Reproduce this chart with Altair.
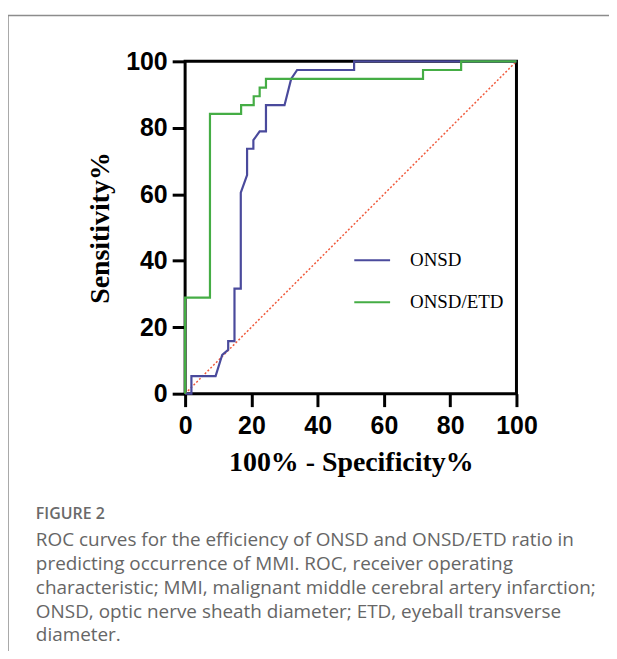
import altair as alt
import pandas as pd

onsd_x = [0, 1.9, 1.9, 9.2, 11.2, 13.0, 13.0, 14.9, 14.9, 16.8, 16.8, 18.7, 18.7, 20.6, 20.6, 22.5, 24.4, 24.4, 30.0, 32.0, 33.8, 51.0, 51.0, 100]
onsd_y = [0, 0, 5.3, 5.3, 11.7, 13.2, 15.8, 15.8, 31.6, 31.6, 60.5, 65.8, 73.7, 73.7, 76.3, 78.9, 78.9, 86.8, 86.8, 94.7, 97.4, 97.4, 100, 100]

ratio_x = [0, 0, 7.5, 7.5, 16.9, 16.9, 20.7, 20.7, 22.5, 22.5, 24.4, 24.4, 71.8, 71.8, 83.3, 83.3, 100]
ratio_y = [0, 28.9, 28.9, 84.2, 84.2, 86.8, 86.8, 89.5, 89.5, 92.1, 92.1, 94.7, 94.7, 97.4, 97.4, 100, 100]

ref_x = [0, 100]
ref_y = [0, 100]

series = ["ONSD", "ONSD/ETD"]
colors = ["#4a4a9c", "#45ad45"]
ticks = [0, 20, 40, 60, 80, 100]

caption_title = "FIGURE 2"
caption_lines = [
    "ROC curves for the efficiency of ONSD and ONSD/ETD ratio in",
    "predicting occurrence of MMI. ROC, receiver operating",
    "characteristic; MMI, malignant middle cerebral artery infarction;",
    "ONSD, optic nerve sheath diameter; ETD, eyeball transverse",
    "diameter.",
]

rows = []
for i, (x, y) in enumerate(zip(onsd_x, onsd_y)):
    rows.append({"x": x, "y": y, "s": series[0], "i": i})
for i, (x, y) in enumerate(zip(ratio_x, ratio_y)):
    rows.append({"x": x, "y": y, "s": series[1], "i": i})
df = pd.DataFrame(rows)
ref = pd.DataFrame({"x": ref_x, "y": ref_y})

xs = alt.Scale(domain=[0, 100], nice=False)
ys = alt.Scale(domain=[0, 100], nice=False)

axis_common = dict(
    values=ticks, grid=False, domain=False, labelFlush=False,
    labelFont="Liberation Sans", labelFontWeight="bold", labelFontSize=25, labelColor="black",
    tickColor="black", tickWidth=3, tickSize=13,
    titleFont="Liberation Serif", titleFontWeight="bold", titleFontSize=28, titleColor="black",
)

diag = alt.Chart(ref).mark_line(color="#f05a3c", strokeWidth=1.5, strokeDash=[2, 2]).encode(
    x=alt.X("x:Q", scale=xs, axis=alt.Axis(title="100% - Specificity%", labelPadding=7, titlePadding=10, **axis_common)),
    y=alt.Y("y:Q", scale=ys, axis=alt.Axis(title="Sensitivity%", labelPadding=5, titlePadding=11, **axis_common)),
)

curves = alt.Chart(df).mark_line(strokeWidth=2.2).encode(
    x=alt.X("x:Q", scale=xs),
    y=alt.Y("y:Q", scale=ys),
    order="i:Q",
    color=alt.Color("s:N", scale=alt.Scale(domain=series, range=colors),
                    legend=alt.Legend(title=None, orient="none", legendX=169, legendY=181,
                                      symbolType="stroke", symbolSize=1296, symbolStrokeWidth=2,
                                      labelFont="Liberation Serif", labelFontSize=19, labelColor="black",
                                      labelOffset=19, rowPadding=13, padding=0)),
)

one = pd.DataFrame({"a": [0]})
border_left = alt.Chart(one).mark_rule(color="#8c8c8c", strokeWidth=1.5).encode(
    x=alt.value(-178), y=alt.value(-46), y2=alt.value(620))
border_top = alt.Chart(one).mark_rule(color="#8c8c8c", strokeWidth=1.5).encode(
    x=alt.value(-178), x2=alt.value(450), y=alt.value(-46))

fig_label = alt.Chart(one).mark_text(
    text=caption_title, font="Open Sans", fontSize=16, fontWeight=600, color="#6a6a6a",
    align="left", baseline="alphabetic",
).encode(x=alt.value(-150), y=alt.value(460))

caption = alt.Chart(one).mark_text(
    text=caption_lines, font="Open Sans", fontSize=19, color="#666666",
    align="left", baseline="alphabetic", lineHeight=24,
).encode(x=alt.value(-150), y=alt.value(487))

chart = alt.layer(border_left, border_top, diag, curves, fig_label, caption).properties(
    width=333, height=334,
    autosize=alt.AutoSizeParams(type="none"),
    padding={"left": 178, "top": 52, "right": 93, "bottom": 257},
).configure_view(stroke="black", strokeWidth=3)

chart.save("out.html", embed_options={"renderer": "svg", "actions": False})
